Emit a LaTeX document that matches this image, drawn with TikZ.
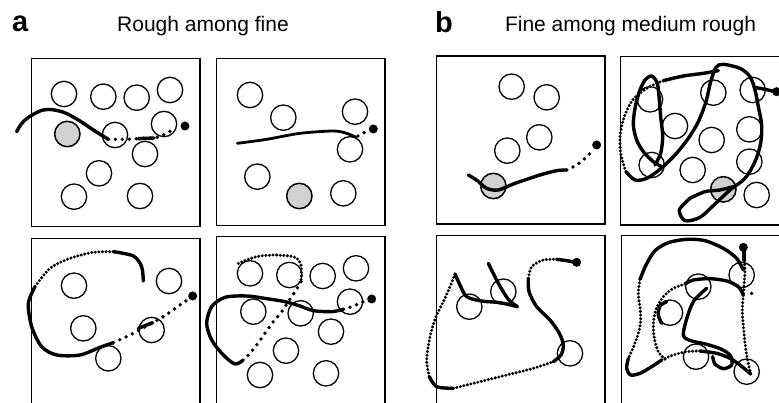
\documentclass[tikz,border=0pt]{standalone}
\usepackage{fontspec}
\setmainfont{Liberation Sans}
\begin{document}
\begin{tikzpicture}[x=1pt,y=-1pt,
  panel/.style={draw=black,line width=1.2pt},
  obst/.style={draw=black,line width=1.3pt,fill=white},
  target/.style={draw=black,line width=1.5pt,fill=black!18},
  traj/.style={line width=3.4pt,line cap=round,line join=round},
  ftraj/.style={line width=2.8pt,line cap=round,line join=round},
  sdots/.style={line width=3.8pt,line cap=round,dash pattern=on 0pt off 7pt},
  fdots/.style={line width=3.3pt,line cap=round,dash pattern=on 0pt off 3.6pt},
  enddot/.style={fill=black},
  zoomed/.style={x=0.33333pt,y=-0.33333pt},
  lbl/.style={inner sep=0pt,font=\bfseries\fontsize{29}{30}\selectfont},
  ttl/.style={inner sep=0pt,font=\fontsize{21}{24}\selectfont}]
\useasboundingbox (0,0) rectangle (779,403);
\clip (0,0) rectangle (779,403);
\fill[white] (0,0) rectangle (779,403);

\node[lbl,anchor=base west] (la) at (12,32) {a};
\node[ttl,anchor=base] (ta) at (203,32) {Rough among fine};
\node[lbl,anchor=base west] (lb) at (435,33) {b};
\node[ttl,anchor=base] (tb) at (630.5,32) {Fine among medium rough};

% ---------- A1
\begin{scope}[shift={(0,50)},zoomed]
\draw[panel] (95,25) rectangle (600,530);
\foreach \p in {(192,132),(310,140),(410,143),(510,120),(345,255),(492,222),(435,312),(297,370),(222,440),(420,438)}
  \draw[obst] \p circle[radius=12.7pt];
\draw[target] (202,252) circle[radius=12.7pt];
\draw[traj] plot[smooth,tension=0.6] coordinates {(50,245) (75,210) (130,180) (185,185) (235,210) (280,240) (325,268)};
\draw[sdots] plot[smooth] coordinates {(325,268) (380,268) (430,265) (470,262) (500,250) (522,236)};
\draw[traj] (415,266) -- (462,264);
\fill[enddot] (555,228) circle[radius=4.5pt];
\end{scope}

% ---------- A2
\begin{scope}[shift={(200,50)},zoomed]
\draw[panel] (50,25) rectangle (555,527);
\foreach \p in {(150,135),(250,203),(465,185),(450,298),(172,380),(430,430)}
  \draw[obst] \p circle[radius=12.7pt];
\draw[target] (298,438) circle[radius=12.7pt];
\draw[ftraj] plot[smooth] coordinates {(112,280) (200,268) (300,250) (400,243) (440,250) (468,262)};
\draw[sdots] plot[smooth] coordinates {(474,258) (490,249) (506,243)};
\fill[enddot] (520,237) circle[radius=4.5pt];
\end{scope}

% ---------- A3
\begin{scope}[shift={(0,220)},zoomed]
\draw[panel] (95,55) rectangle (600,620);
\foreach \p in {(222,197),(250,325),(507,183),(455,330),(325,415)}
  \draw[obst] \p circle[radius=12.7pt];
\draw[traj] plot[smooth] coordinates {(430,183) (425,140) (400,108) (340,95)};
\draw[fdots] plot[smooth] coordinates {(340,95) (280,97) (210,115) (150,145) (105,200)};
\draw[traj] plot[smooth] coordinates {(105,200) (85,250) (95,320) (125,380) (170,405) (240,405) (300,382) (340,368)};
\draw[sdots] plot[smooth] coordinates {(340,368) (390,345) (440,318) (490,290) (540,255) (562,240)};
\draw[traj] (415,325) -- (458,308);
\fill[enddot] (578,228) circle[radius=4.5pt];
\end{scope}

% ---------- A4
\begin{scope}[shift={(200,220)},zoomed]
\draw[panel] (50,50) rectangle (555,620);
\foreach \p in {(150,160),(268,165),(368,168),(468,145),(160,275),(302,280),(450,245),(393,335),(258,392),(180,465),(378,460)}
  \draw[obst] \p circle[radius=12.7pt];
\draw[fdots] plot[smooth] coordinates {(115,130) (170,110) (230,105) (285,112) (303,135) (303,185)};
\draw[sdots] plot[smooth] coordinates {(303,185) (285,215) (265,245) (245,275) (220,305) (195,340) (170,375) (150,400) (130,420)};
\draw[traj] plot[smooth] coordinates {(130,420) (105,432) (70,405) (35,360) (20,310) (35,260) (75,232) (140,228) (200,236) (255,245) (300,258) (340,272) (395,275) (430,268)};
\draw[sdots] plot[smooth] coordinates {(430,268) (460,258) (490,245)};
\fill[enddot] (515,237) circle[radius=4.5pt];
\end{scope}

% ---------- B1
\begin{scope}[shift={(400,50)},zoomed]
\draw[panel] (110,18) rectangle (615,522);
\foreach \p in {(335,110),(440,142),(418,262),(322,302)}
  \draw[obst] \p circle[radius=12.7pt];
\draw[target] (280,408) circle[radius=12.7pt];
\draw[traj] plot[smooth] coordinates {(205,375) (232,392) (260,415) (295,420) (345,400) (420,375) (470,362) (500,360)};
\draw[sdots] plot[smooth] coordinates {(500,360) (530,345) (555,325) (575,305)};
\fill[enddot] (590,285) circle[radius=4.5pt];
\end{scope}

% ---------- B2
\begin{scope}[shift={(590,50)},zoomed]
\draw[panel] (92,20) rectangle (700,525);
\foreach \p in {(180,148),(255,228),(370,128),(488,120),(365,270),(478,238),(185,345),(308,360),(478,335),(500,435)}
  \draw[obst] \p circle[radius=12.7pt];
\draw[target] (400,418) circle[radius=12.7pt];
\draw[traj] plot[smooth] coordinates {(300,445) (268,480) (285,512) (330,502) (375,462) (420,420) (465,385) (495,335) (512,280) (515,225) (505,170) (495,120) (480,80) (450,55) (400,43) (378,52) (362,95) (348,155) (325,215) (295,265) (255,315) (210,358) (170,385) (135,390) (108,365)};
\draw[fdots] plot[smooth] coordinates {(108,365) (93,315) (90,260) (103,200) (128,150) (170,115) (220,92)};
\draw[traj] plot[smooth] coordinates {(220,92) (280,78) (340,70) (385,62)};
\draw[traj] plot[smooth] coordinates {(215,350) (190,335) (160,305) (140,270) (130,225) (135,175) (148,125) (165,90) (185,78) (202,100) (208,150) (212,200) (218,260) (212,310) (195,345)};
\draw[traj] plot[smooth] coordinates {(300,445) (345,425) (390,420) (430,410)};
\draw[traj] plot[smooth] coordinates {(493,112) (525,118) (555,125)};
\fill[enddot] (560,125) circle[radius=4.5pt];
\end{scope}

% ---------- B3
\begin{scope}[shift={(400,220)},zoomed]
\draw[panel] (110,47) rectangle (615,620);
\foreach \p in {(208,260),(310,215),(510,400)}
  \draw[obst] \p circle[radius=12.7pt];
\draw[traj] plot[smooth] coordinates {(265,130) (295,190) (325,238) (352,260)};
\draw[traj] plot[smooth] coordinates {(352,260) (300,248) (245,243) (200,230) (180,195) (165,162)};
\draw[fdots] plot[smooth] coordinates {(165,162) (150,200) (130,245) (108,290) (90,350) (80,420) (88,470)};
\draw[traj] plot[smooth] coordinates {(88,470) (110,500) (160,505)};
\draw[fdots] plot[smooth] coordinates {(160,505) (240,485) (320,465) (400,445) (460,425)};
\draw[traj] plot[smooth] coordinates {(460,425) (483,405) (490,375) (478,340) (450,300) (410,260) (387,215) (385,175)};
\draw[fdots] plot[smooth] coordinates {(385,175) (395,140) (430,120) (470,118)};
\draw[traj] plot[smooth] coordinates {(470,118) (500,122) (525,127)};
\fill[enddot] (530,127) circle[radius=4.5pt];
\end{scope}

% ---------- B4
\begin{scope}[shift={(590,220)},zoomed]
\draw[panel] (95,47) rectangle (700,620);
\foreach \p in {(325,200),(455,165),(240,278),(318,410),(470,455)}
  \draw[obst] \p circle[radius=12.7pt];
\draw[traj] plot[smooth] coordinates {(460,150) (440,115) (400,85) (345,62) (290,58) (235,68) (195,92) (168,135) (150,178)};
\draw[fdots] plot[smooth] coordinates {(150,178) (145,220) (150,262) (152,302) (145,340) (130,382) (115,415)};
\draw[traj] plot[smooth] coordinates {(115,415) (110,445) (122,465) (150,460) (185,440) (215,420)};
\draw[fdots] plot[smooth] coordinates {(215,420) (250,405) (290,395) (330,393)};
\draw[traj] plot[smooth] coordinates {(330,393) (380,400) (420,415) (450,435) (482,462)};
\draw[fdots] plot[smooth] coordinates {(482,462) (470,405) (462,340) (457,275) (460,225)};
\draw[traj] plot[smooth] coordinates {(460,225) (445,200) (410,183) (360,176) (310,180) (285,192)};
\draw[fdots] plot[smooth] coordinates {(285,192) (250,205) (220,230) (198,268) (190,312) (193,355) (205,395) (225,418)};
\draw[traj] plot[smooth] coordinates {(350,205) (312,242) (292,290) (280,345) (302,362) (350,373) (395,388) (422,408) (425,435) (400,446) (375,432) (368,410)};
\draw[traj] plot[smooth] coordinates {(215,310) (205,285) (210,258) (230,245)};
\draw[fdots] plot[smooth] coordinates {(460,220) (463,185) (465,150) (463,120)};
\draw[traj] (462,120) -- (462,95);
\fill (485,220) circle[radius=1.9pt];
\fill[enddot] (460,82) circle[radius=4.5pt];
\end{scope}
\end{tikzpicture}
\end{document}
